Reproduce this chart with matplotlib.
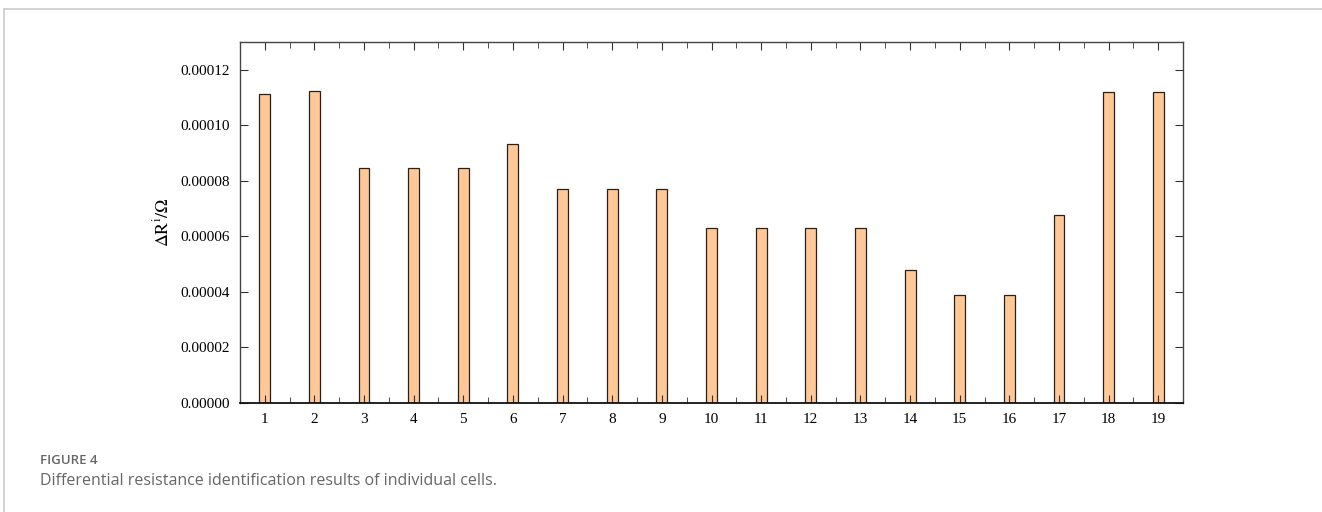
import numpy as np
import matplotlib as mpl
mpl.use('Agg')
import matplotlib.pyplot as plt
from matplotlib.lines import Line2D
from matplotlib.ticker import MultipleLocator

mpl.rcParams.update({'font.family': 'Liberation Serif', 'mathtext.fontset': 'stix'})

cells = list(range(1, 20))
delta_r = [1.111e-4, 1.122e-4, 8.45e-5, 8.45e-5, 8.45e-5, 9.34e-5,
           7.69e-5, 7.69e-5, 7.69e-5, 6.30e-5, 6.30e-5, 6.30e-5, 6.30e-5,
           4.78e-5, 3.88e-5, 3.88e-5, 6.78e-5, 1.121e-4, 1.121e-4]
y_ticks = [0.0, 0.00002, 0.00004, 0.00006, 0.00008, 0.00010, 0.00012]

fig = plt.figure(figsize=(13.22, 5.12), dpi=100)
ax = fig.add_axes([0.1815, 0.2129, 0.7134, 0.7051])

ax.bar(cells, delta_r, width=0.22, color='#ffc896', edgecolor='#222222', linewidth=0.9)

ax.set_xlim(0.5, 19.5)
ax.set_ylim(0, 0.00013)
ax.set_xticks(cells)
ax.set_xticklabels([str(c) for c in cells])
ax.xaxis.set_minor_locator(MultipleLocator(0.5))
ax.set_yticks(y_ticks)
ax.set_yticklabels(["%.5f" % v for v in y_ticks])
ax.tick_params(axis='both', which='both', direction='in', top=True, right=True,
               labelsize=11, color='#333333')
ax.tick_params(axis='both', which='major', length=6, pad=7)
ax.tick_params(axis='x', which='minor', length=4)
for s in ax.spines.values():
    s.set_color('#444444')
    s.set_linewidth(1.0)
ax.spines['bottom'].set_color('#111111')
ax.spines['bottom'].set_linewidth(1.3)

ax.set_ylabel(r'$\Delta\mathrm{R}^{\mathrm{i}}/\Omega$', fontsize=13, labelpad=6)

# card border and caption
fig.add_artist(Line2D([4/1322, 1], [1 - 9/512, 1 - 9/512], color='#cccccc', lw=1.2))
fig.add_artist(Line2D([4/1322, 4/1322], [0, 1 - 9/512], color='#cccccc', lw=1.2))
fig.text(40/1322, 1 - 461/512, 'FIGURE 4', fontsize=9.5, color='#666666',
         family='Open Sans', fontweight='semibold', va='center')
fig.text(40/1322, 1 - 481/512, 'Differential resistance identification results of individual cells.',
         fontsize=11.5, color='#666666', family='Open Sans', va='center')

plt.savefig('out.png', dpi=100)
